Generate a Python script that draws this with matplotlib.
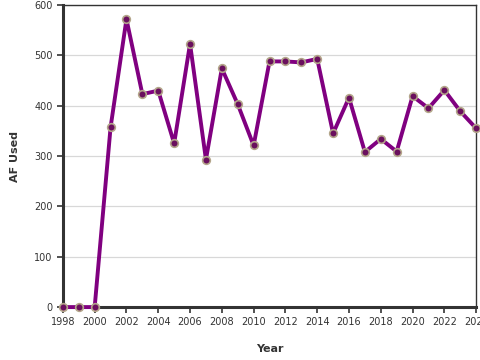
import matplotlib
matplotlib.use("Agg")
import matplotlib.pyplot as plt

# yearly values
years = list(range(1998, 2025))
af_used = [0, 0, 0, 357, 572, 423, 430, 325, 523, 293, 474, 403, 321,
           488, 488, 486, 493, 345, 416, 308, 334, 309, 419, 395, 431,
           389, 355]
x_ticks = list(range(1998, 2025, 2))
y_ticks = [0, 100, 200, 300, 400, 500, 600]

fig = plt.figure(figsize=[4.8, 3.6], dpi=100)
ax = fig.add_axes([0.131, 0.147, 0.861, 0.839])

ax.grid(True, axis='y', color='#d8d8d8', linewidth=0.9)
ax.set_axisbelow(True)
ax.plot(years, af_used, color='#800080', linewidth=2.8, marker='o',
        markersize=5.5, markerfacecolor='#6a0f5e', markeredgecolor='#b3a58a',
        markeredgewidth=1.2, zorder=3, clip_on=False)

ax.set_xlim(1998, 2024)
ax.set_ylim(0, 600)
ax.set_xticks(x_ticks)
ax.set_yticks(y_ticks)
ax.tick_params(labelsize=7, colors='#333333', length=4, width=1.2)

for side in ['left', 'bottom']:
    ax.spines[side].set_linewidth(2.2)
    ax.spines[side].set_color('#333333')
for side in ['top', 'right']:
    ax.spines[side].set_linewidth(1.0)
    ax.spines[side].set_color('#333333')

ax.set_xlabel('Year', fontsize=8, fontweight='bold', color='#333333', labelpad=12)
ax.set_ylabel('AF Used', fontsize=8, fontweight='bold', color='#333333', labelpad=10)

fig.savefig('out.png', dpi=100)
